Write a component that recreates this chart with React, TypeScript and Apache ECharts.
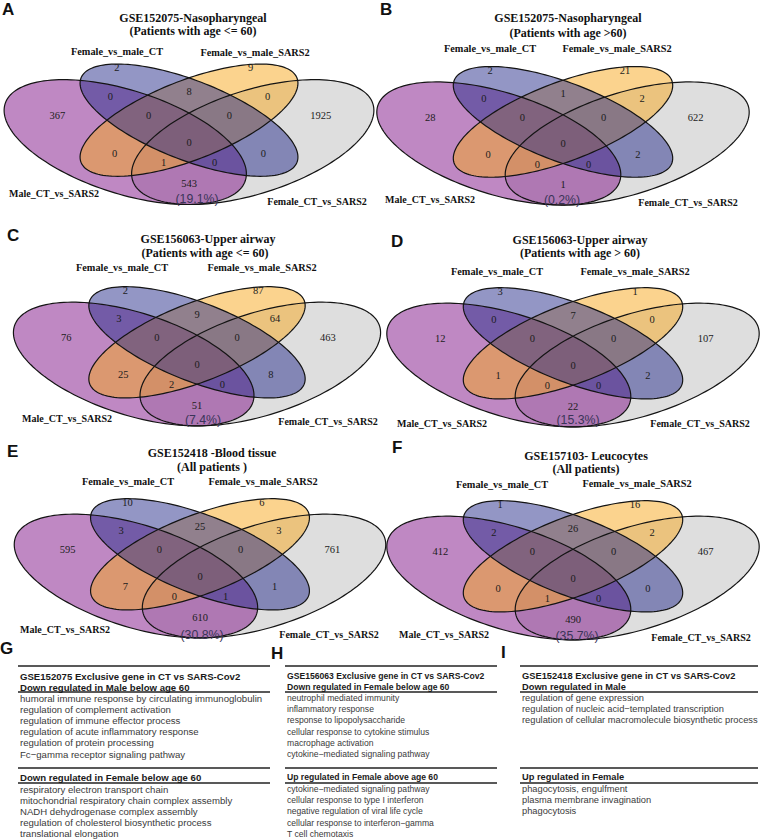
import React, { useEffect, useRef } from "react";
import * as echarts from "echarts";

// ---------------- DATA ----------------
const panelLetters = ["A", "B", "C", "D", "E", "F"];
const panelTitles = [
  "GSE152075-Nasopharyngeal",
  "GSE152075-Nasopharyngeal",
  "GSE156063-Upper airway",
  "GSE156063-Upper airway",
  "GSE152418 -Blood tissue",
  "GSE157103- Leucocytes",
];
const panelSubtitles = [
  "(Patients with age <= 60)",
  "(Patients with age >60)",
  "(Patients with age <= 60)",
  "(Patients with age > 60)",
  "(All patients )",
  "(All patients)",
];
const setNames = ["Male_CT_vs_SARS2", "Female_vs_male_CT", "Female_vs_male_SARS2", "Female_CT_vs_SARS2"];

// Region order: blueOnly, orangeOnly, blue∩orange, pink∩blue, orange∩gray, pinkOnly,
// pink∩blue∩orange, blue∩orange∩gray, grayOnly, all4, pink∩orange, blue∩gray,
// pink∩orange∩gray, pink∩blue∩gray, pink∩gray
const countsA = [2, 9, 8, 0, 0, 367, 0, 0, 1925, 0, 0, 0, 1, 0, 543];
const countsB = [2, 21, 1, 0, 2, 28, 0, 0, 622, 0, 0, 2, 0, 0, 1];
const countsC = [2, 87, 9, 3, 64, 76, 0, 0, 463, 0, 25, 8, 2, 0, 51];
const countsD = [3, 1, 7, 0, 0, 12, 0, 0, 107, 0, 1, 2, 0, 0, 22];
const countsE = [10, 6, 25, 3, 3, 595, 0, 0, 761, 0, 7, 1, 0, 1, 610];
const countsF = [1, 16, 26, 2, 2, 412, 0, 0, 467, 0, 0, 0, 1, 0, 490];
const panelCounts = [countsA, countsB, countsC, countsD, countsE, countsF];
const sharedPercents = ["(19.1%)", "(0.2%)", "(7.4%)", "(15.3%)", "(30.8%)", "(35.7%)"];

const tableLetters = ["G", "H", "I"];
const tableTitles = [
  "GSE152075 Exclusive gene in CT vs SARS-Cov2",
  "GSE156063 Exclusive gene in CT vs SARS-Cov2",
  "GSE152418 Exclusive gene in CT vs SARS-Cov2",
];
const tableHeads1 = [
  "Down regulated in Male below age 60",
  "Down regulated in Female below age 60",
  "Down regulated in Male",
];
const tableItemsG1 = [
  "humoral immune response by circulating immunoglobulin",
  "regulation of complement activation",
  "regulation of immune effector process",
  "regulation of acute inflammatory response",
  "regulation of protein processing",
  "Fc\u2212gamma receptor signaling pathway",
];
const tableItemsH1 = [
  "neutrophil mediated immunity",
  "inflammatory response",
  "response to lipopolysaccharide",
  "cellular response to cytokine stimulus",
  "macrophage activation",
  "cytokine\u2212mediated signaling pathway",
];
const tableItemsI1 = [
  "regulation of gene expression",
  "regulation of nucleic acid\u2212templated transcription",
  "regulation of cellular macromolecule biosynthetic process",
];
const tableHeads2 = [
  "Down regulated in Female below age 60",
  "Up regulated in Female above age 60",
  "Up regulated in Female",
];
const tableItemsG2 = [
  "respiratory electron transport chain",
  "mitochondrial respiratory chain complex assembly",
  "NADH dehydrogenase complex assembly",
  "regulation of cholesterol biosynthetic process",
  "translational elongation",
];
const tableItemsH2 = [
  "cytokine\u2212mediated signaling pathway",
  "cellular response to type I interferon",
  "negative regulation of viral life cycle",
  "cellular response to interferon\u2212gamma",
  "T cell chemotaxis",
];
const tableItemsI2 = ["phagocytosis, engulfment", "plasma membrane invagination", "phagocytosis"];
const tableItems1 = [tableItemsG1, tableItemsH1, tableItemsI1];
const tableItems2 = [tableItemsG2, tableItemsH2, tableItemsI2];

// ---------------- LAYOUT / STYLE ----------------
const SERIF = '"Liberation Serif", "Times New Roman", serif';
const SANS = '"Liberation Sans", Arial, sans-serif';

// region label positions in the unit Venn template (y up)
const REGION_UV = [
  [0.33, 0.81], [0.645, 0.81], [0.5, 0.7], [0.315, 0.68], [0.685, 0.68],
  [0.19, 0.59], [0.405, 0.59], [0.595, 0.59], [0.81, 0.59], [0.5, 0.47],
  [0.325, 0.42], [0.675, 0.42], [0.44, 0.375], [0.56, 0.375], [0.5, 0.28],
];
// draw order: gray, pink, orange, blue
const ELLIPSES = [
  { cx: 0.65, cy: 0.47, a: 0.35, b: 0.2, rot: 45, fill: "rgba(190,190,190,0.5)" },
  { cx: 0.35, cy: 0.47, a: 0.35, b: 0.2, rot: 135, fill: "rgba(128,18,136,0.5)" },
  { cx: 0.5, cy: 0.57, a: 0.33, b: 0.15, rot: 45, fill: "rgba(248,168,30,0.5)" },
  { cx: 0.5, cy: 0.57, a: 0.33, b: 0.15, rot: 135, fill: "rgba(40,45,140,0.5)" },
];

const PANEL_LAYOUT = [
  { cx: 189, y0: 245, sx: 425, sy: 219, letter: [2, 9], title: [193, 18], sub: [193, 31], tl: [117, 51], tr: [255, 52], bl: [54, 193], br: [317, 201], pct: [197, 199] },
  { cx: 563, y0: 245, sx: 428, sy: 216, letter: [380, 9], title: [568, 18], sub: [568, 33], tl: [490, 48], tr: [617, 48], bl: [430, 199], br: [688, 202], pct: [562, 200] },
  { cx: 197, y0: 466, sx: 422, sy: 217, letter: [7, 235.5], title: [208, 239], sub: [205, 253], tl: [122, 267], tr: [262, 267], bl: [67, 418], br: [328, 421], pct: [203, 420] },
  { cx: 573, y0: 467, sx: 428, sy: 217, letter: [391, 241], title: [580, 240], sub: [580, 253], tl: [497, 271], tr: [635, 271], bl: [442, 423], br: [700, 423], pct: [578, 420] },
  { cx: 200, y0: 678, sx: 427, sy: 217, letter: [7, 451], title: [212, 453], sub: [212, 467], tl: [128, 481], tr: [263, 481], bl: [65, 629], br: [329, 634], pct: [202, 635] },
  { cx: 573, y0: 680, sx: 428, sy: 217, letter: [392, 447], title: [586, 456], sub: [586, 469], tl: [502, 484], tr: [637, 483], bl: [444, 634], br: [701, 637], pct: [577, 636] },
];

const TABLE_LAYOUT = [
  { x0: 18, x1: 270, letter: [0, 648], fs: 9.6 },
  { x0: 285, x1: 497, letter: [271, 653], fs: 8.6 },
  { x0: 520, x1: 758, letter: [501, 652], fs: 9.3 },
];
const TABLE_Y = { line1: 666, title: 676, head1: 687, line2: 692, items1: 698, line3: 768, head2: 777, line4: 783, items2: 789, step: 11.2 };

function txt(x: number, y: number, text: string, opts: any) {
  const align = opts.align || "center";
  const va = opts.va || "middle";
  return {
    type: "text",
    x,
    y,
    silent: true,
    style: {
      text,
      fill: opts.fill || "#111",
      fontSize: opts.size,
      fontFamily: opts.family,
      fontWeight: opts.weight || "normal",
      align,
      verticalAlign: va,
      textAlign: align,
      textVerticalAlign: va,
    },
  };
}

function ellipsePoints(e: any, L: any) {
  const pts: number[][] = [];
  const N = 160;
  const R = (e.rot * Math.PI) / 180;
  const x0 = L.cx - 0.5 * L.sx;
  for (let i = 0; i < N; i++) {
    const t = (i / N) * Math.PI * 2;
    const ux = e.cx + e.a * Math.cos(t) * Math.cos(R) - e.b * Math.sin(t) * Math.sin(R);
    const uy = e.cy + e.a * Math.cos(t) * Math.sin(R) + e.b * Math.sin(t) * Math.cos(R);
    pts.push([x0 + ux * L.sx, L.y0 - uy * L.sy]);
  }
  return pts;
}

function buildElements() {
  const els: any[] = [];
  PANEL_LAYOUT.forEach((L, p) => {
    const x0 = L.cx - 0.5 * L.sx;
    const polys = ELLIPSES.map((e) => ellipsePoints(e, L));
    ELLIPSES.forEach((e, i) => {
      els.push({ type: "polygon", silent: true, shape: { points: polys[i] }, style: { fill: e.fill, stroke: "none" } });
    });
    ELLIPSES.forEach((e, i) => {
      els.push({ type: "polygon", silent: true, shape: { points: polys[i] }, style: { fill: "none", stroke: "#141414", lineWidth: 1.2 } });
    });
    panelCounts[p].forEach((v, r) => {
      const [u, w] = REGION_UV[r];
      els.push(txt(x0 + u * L.sx, L.y0 - w * L.sy, String(v), { size: 10.5, family: SERIF, fill: "#1c1c1c" }));
    });
    els.push(txt(L.pct[0], L.pct[1], sharedPercents[p], { size: 12.3, family: SANS, fill: "#3a3458" }));
    els.push(txt(L.letter[0], L.letter[1], panelLetters[p], { size: 17, family: SANS, weight: "bold", align: "left", fill: "#111" }));
    els.push(txt(L.title[0], L.title[1], panelTitles[p], { size: 12, family: SERIF, weight: "bold" }));
    els.push(txt(L.sub[0], L.sub[1], panelSubtitles[p], { size: 12, family: SERIF, weight: "bold" }));
    els.push(txt(L.tl[0], L.tl[1], setNames[1], { size: 10.3, family: SERIF, weight: "bold" }));
    els.push(txt(L.tr[0], L.tr[1], setNames[2], { size: 10.3, family: SERIF, weight: "bold" }));
    els.push(txt(L.bl[0], L.bl[1], setNames[0], { size: 10, family: SERIF, weight: "bold" }));
    els.push(txt(L.br[0], L.br[1], setNames[3], { size: 10, family: SERIF, weight: "bold" }));
  });

  TABLE_LAYOUT.forEach((T, k) => {
    const Y = TABLE_Y;
    const line = (y: number, w: number) => ({
      type: "line",
      silent: true,
      shape: { x1: T.x0, y1: y, x2: T.x1, y2: y },
      style: { stroke: "#222", lineWidth: w },
    });
    els.push(txt(T.letter[0], T.letter[1], tableLetters[k], { size: 17, family: SANS, weight: "bold", align: "left" }));
    els.push(line(Y.line1, 1.4));
    els.push(line(Y.line2, 1.4));
    els.push(line(Y.line3, 1.4));
    els.push(line(Y.line4, 1.4));
    const tx = T.x0 + 2;
    els.push(txt(tx, Y.title, tableTitles[k], { size: T.fs, family: SANS, weight: "bold", align: "left", fill: "#1a1a1a" }));
    els.push(txt(tx, Y.head1, tableHeads1[k], { size: T.fs, family: SANS, weight: "bold", align: "left", fill: "#1a1a1a" }));
    tableItems1[k].forEach((s, i) => {
      els.push(txt(tx, Y.items1 + i * Y.step, s, { size: T.fs, family: SANS, align: "left", fill: "#3a3a3a" }));
    });
    els.push(txt(tx, Y.head2, tableHeads2[k], { size: T.fs, family: SANS, weight: "bold", align: "left", fill: "#1a1a1a" }));
    tableItems2[k].forEach((s, i) => {
      els.push(txt(tx, Y.items2 + i * Y.step, s, { size: T.fs, family: SANS, align: "left", fill: "#3a3a3a" }));
    });
  });
  return els;
}

export default function App() {
  const ref = useRef<HTMLDivElement>(null);
  useEffect(() => {
    if (!ref.current) return;
    const chart = echarts.init(ref.current, undefined, { renderer: "svg" });
    chart.setOption({
      animation: false,
      backgroundColor: "#ffffff",
      series: [],
      graphic: { elements: buildElements() },
    });
    return () => chart.dispose();
  }, []);
  return (
    <div
      ref={ref}
      style={{ position: "absolute", left: 0, top: 0, width: 760, height: 839, background: "#fff" }}
    />
  );
}
